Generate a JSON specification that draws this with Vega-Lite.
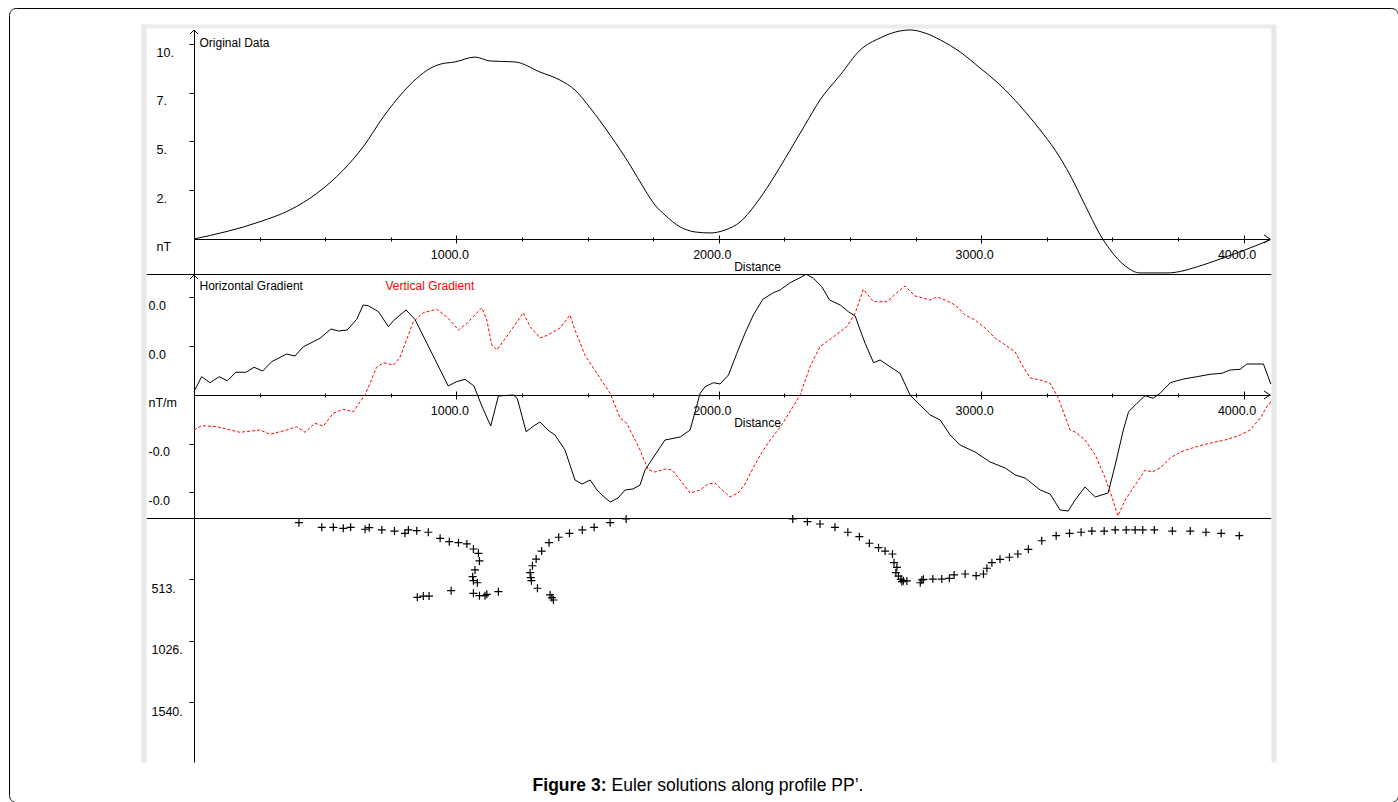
{
  "$schema": "https://vega.github.io/schema/vega-lite/v6.json",
  "width": 1389,
  "height": 794,
  "padding": {"left": 9, "top": 8, "right": 0, "bottom": 0},
  "autosize": {"type": "none"},
  "background": "white",
  "config": {
    "view": {"stroke": "#000000", "strokeWidth": 1, "cornerRadius": 7, "fill": "white"},
    "axis": {
      "labelFont": "Liberation Sans", "labelFontSize": 12.5, "labelColor": "#000000",
      "titleFont": "Liberation Sans", "titleFontSize": 12, "titleFontWeight": "normal", "titleColor": "#000000",
      "domainColor": "#000000", "tickColor": "#000000", "grid": false,
      "labelFlush": false, "labelOverlap": false, "tickWidth": 1, "domainWidth": 1
    }
  },
  "datasets": {
    "orig": [
      {"d": 0, "v": 0}, {"d": 252, "v": 0.89}, {"d": 366, "v": 1.49}, {"d": 468, "v": 2.34},
      {"d": 569, "v": 3.54}, {"d": 645, "v": 4.73}, {"d": 722, "v": 6.27}, {"d": 798, "v": 7.55},
      {"d": 849, "v": 8.24}, {"d": 900, "v": 8.75}, {"d": 940, "v": 8.97}, {"d": 995, "v": 9.08},
      {"d": 1071, "v": 9.33}, {"d": 1128, "v": 9.13}, {"d": 1224, "v": 9.08}, {"d": 1319, "v": 8.56},
      {"d": 1395, "v": 8.15}, {"d": 1452, "v": 7.64}, {"d": 1510, "v": 6.72}, {"d": 1586, "v": 5.33},
      {"d": 1662, "v": 3.79}, {"d": 1719, "v": 2.51}, {"d": 1757, "v": 1.74}, {"d": 1795, "v": 1.23},
      {"d": 1853, "v": 0.62}, {"d": 1910, "v": 0.36}, {"d": 1967, "v": 0.31}, {"d": 2024, "v": 0.46},
      {"d": 2081, "v": 0.87}, {"d": 2138, "v": 1.74}, {"d": 2196, "v": 2.87}, {"d": 2272, "v": 4.56},
      {"d": 2329, "v": 5.85}, {"d": 2386, "v": 7.13}, {"d": 2463, "v": 8.41}, {"d": 2539, "v": 9.69},
      {"d": 2615, "v": 10.31}, {"d": 2691, "v": 10.67}, {"d": 2729, "v": 10.72}, {"d": 2787, "v": 10.56},
      {"d": 2844, "v": 10.21}, {"d": 2920, "v": 9.59}, {"d": 2996, "v": 8.77}, {"d": 3072, "v": 7.9},
      {"d": 3149, "v": 6.82}, {"d": 3225, "v": 5.59}, {"d": 3282, "v": 4.56}, {"d": 3339, "v": 3.28},
      {"d": 3396, "v": 1.74}, {"d": 3454, "v": 0.21}, {"d": 3492, "v": -0.56}, {"d": 3549, "v": -1.38},
      {"d": 3606, "v": -1.74}, {"d": 3709, "v": -1.74}, {"d": 3846, "v": -1.33}, {"d": 3922, "v": -0.97},
      {"d": 4025, "v": -0.46}, {"d": 4101, "v": -0.05}
    ],
    "hgrad": [
      {"d": 0, "v": 0.00068}, {"d": 29, "v": 0.00375}, {"d": 61, "v": 0.00252}, {"d": 96, "v": 0.00375},
      {"d": 127, "v": 0.00293}, {"d": 160, "v": 0.00466}, {"d": 198, "v": 0.00466}, {"d": 229, "v": 0.00568},
      {"d": 262, "v": 0.00492}, {"d": 296, "v": 0.00683}, {"d": 353, "v": 0.00841}, {"d": 385, "v": 0.008},
      {"d": 417, "v": 0.00991}, {"d": 480, "v": 0.01163}, {"d": 522, "v": 0.01354}, {"d": 550, "v": 0.01313},
      {"d": 584, "v": 0.01333}, {"d": 620, "v": 0.01553}, {"d": 645, "v": 0.01846}, {"d": 664, "v": 0.01832},
      {"d": 703, "v": 0.01709}, {"d": 741, "v": 0.01401}, {"d": 760, "v": 0.01524}, {"d": 808, "v": 0.01744},
      {"d": 842, "v": 0.01553}, {"d": 969, "v": 0.00185}, {"d": 1001, "v": 0.00273}, {"d": 1033, "v": 0.00322},
      {"d": 1067, "v": 0.00185}, {"d": 1097, "v": -0.00226}, {"d": 1131, "v": -0.00636}, {"d": 1160, "v": -0.00021},
      {"d": 1217, "v": 0}, {"d": 1232, "v": -0.00068}, {"d": 1266, "v": -0.00753}, {"d": 1300, "v": -0.00615},
      {"d": 1319, "v": -0.00554}, {"d": 1349, "v": -0.00718}, {"d": 1376, "v": -0.00821}, {"d": 1414, "v": -0.01128},
      {"d": 1452, "v": -0.01744}, {"d": 1479, "v": -0.01826}, {"d": 1510, "v": -0.01744}, {"d": 1536, "v": -0.01949},
      {"d": 1555, "v": -0.02051}, {"d": 1586, "v": -0.02195}, {"d": 1616, "v": -0.02113}, {"d": 1643, "v": -0.01949},
      {"d": 1673, "v": -0.01928}, {"d": 1700, "v": -0.01846}, {"d": 1719, "v": -0.01538}, {"d": 1757, "v": -0.01231},
      {"d": 1795, "v": -0.00923}, {"d": 1853, "v": -0.00862}, {"d": 1891, "v": -0.00718}, {"d": 1929, "v": 0.00035},
      {"d": 1948, "v": 0.0017}, {"d": 1980, "v": 0.00252}, {"d": 2005, "v": 0.00226}, {"d": 2037, "v": 0.0041},
      {"d": 2069, "v": 0.00855}, {"d": 2100, "v": 0.01266}, {"d": 2132, "v": 0.01641}, {"d": 2168, "v": 0.01963},
      {"d": 2208, "v": 0.02098}, {"d": 2234, "v": 0.02154}, {"d": 2272, "v": 0.02304}, {"d": 2310, "v": 0.02406},
      {"d": 2333, "v": 0.02476}, {"d": 2361, "v": 0.02394}, {"d": 2393, "v": 0.02222}, {"d": 2422, "v": 0.01949},
      {"d": 2463, "v": 0.01846}, {"d": 2494, "v": 0.01709}, {"d": 2520, "v": 0.0162}, {"d": 2539, "v": 0.01333},
      {"d": 2558, "v": 0.0106}, {"d": 2590, "v": 0.00663}, {"d": 2615, "v": 0.00718}, {"d": 2653, "v": 0.0058},
      {"d": 2691, "v": 0.00445}, {"d": 2729, "v": 0}, {"d": 2767, "v": -0.00205}, {"d": 2806, "v": -0.0041},
      {"d": 2844, "v": -0.00513}, {"d": 2882, "v": -0.00821}, {"d": 2920, "v": -0.01026}, {"d": 2977, "v": -0.01169},
      {"d": 3034, "v": -0.01374}, {"d": 3092, "v": -0.01497}, {"d": 3130, "v": -0.01641}, {"d": 3168, "v": -0.01703},
      {"d": 3225, "v": -0.01949}, {"d": 3263, "v": -0.02031}, {"d": 3301, "v": -0.02359}, {"d": 3332, "v": -0.0238},
      {"d": 3358, "v": -0.02154}, {"d": 3396, "v": -0.01887}, {"d": 3435, "v": -0.02092}, {"d": 3484, "v": -0.0201},
      {"d": 3511, "v": -0.01436}, {"d": 3542, "v": -0.00718}, {"d": 3562, "v": -0.00343}, {"d": 3594, "v": -0.0017},
      {"d": 3625, "v": -0.00014}, {"d": 3655, "v": -0.00068}, {"d": 3682, "v": 0.00035}, {"d": 3721, "v": 0.00252},
      {"d": 3771, "v": 0.00328}, {"d": 3822, "v": 0.00375}, {"d": 3873, "v": 0.00425}, {"d": 3918, "v": 0.00445},
      {"d": 3949, "v": 0.00513}, {"d": 3987, "v": 0.00527}, {"d": 4013, "v": 0.00636}, {"d": 4076, "v": 0.00636},
      {"d": 4104, "v": 0.00226}
    ],
    "vgrad": [
      {"d": 0, "v": -0.00718}, {"d": 29, "v": -0.0063}, {"d": 87, "v": -0.0065}, {"d": 175, "v": -0.00765},
      {"d": 252, "v": -0.00718}, {"d": 290, "v": -0.00806}, {"d": 353, "v": -0.00718}, {"d": 391, "v": -0.0065},
      {"d": 423, "v": -0.00765}, {"d": 461, "v": -0.0058}, {"d": 493, "v": -0.00636}, {"d": 531, "v": -0.00375},
      {"d": 569, "v": -0.00293}, {"d": 607, "v": -0.00343}, {"d": 633, "v": -0.00137}, {"d": 652, "v": 0},
      {"d": 696, "v": 0.00568}, {"d": 722, "v": 0.00663}, {"d": 760, "v": 0.00615}, {"d": 785, "v": 0.00773},
      {"d": 836, "v": 0.01504}, {"d": 874, "v": 0.01688}, {"d": 925, "v": 0.01758}, {"d": 963, "v": 0.01606},
      {"d": 1008, "v": 0.01333}, {"d": 1040, "v": 0.01471}, {"d": 1097, "v": 0.01791}, {"d": 1116, "v": 0.01538},
      {"d": 1135, "v": 0.01026}, {"d": 1154, "v": 0.00923}, {"d": 1205, "v": 0.01298}, {"d": 1255, "v": 0.01688},
      {"d": 1281, "v": 0.01401}, {"d": 1319, "v": 0.01169}, {"d": 1349, "v": 0.01231}, {"d": 1395, "v": 0.01374},
      {"d": 1433, "v": 0.01641}, {"d": 1452, "v": 0.01333}, {"d": 1490, "v": 0.00821}, {"d": 1548, "v": 0.00343},
      {"d": 1586, "v": 0.00035}, {"d": 1624, "v": -0.00472}, {"d": 1649, "v": -0.0058}, {"d": 1700, "v": -0.01128},
      {"d": 1731, "v": -0.01538}, {"d": 1757, "v": -0.0158}, {"d": 1795, "v": -0.01518}, {"d": 1822, "v": -0.01538},
      {"d": 1853, "v": -0.01744}, {"d": 1891, "v": -0.0201}, {"d": 1929, "v": -0.01949}, {"d": 1959, "v": -0.01826},
      {"d": 1986, "v": -0.01805}, {"d": 2013, "v": -0.01949}, {"d": 2043, "v": -0.02092}, {"d": 2074, "v": -0.0201},
      {"d": 2100, "v": -0.01826}, {"d": 2127, "v": -0.01538}, {"d": 2158, "v": -0.01231}, {"d": 2196, "v": -0.00923},
      {"d": 2240, "v": -0.00615}, {"d": 2310, "v": 0}, {"d": 2348, "v": 0.0058}, {"d": 2386, "v": 0.00991},
      {"d": 2437, "v": 0.01196}, {"d": 2488, "v": 0.01401}, {"d": 2520, "v": 0.01676}, {"d": 2551, "v": 0.02168},
      {"d": 2590, "v": 0.01914}, {"d": 2641, "v": 0.01914}, {"d": 2691, "v": 0.02154}, {"d": 2710, "v": 0.02236},
      {"d": 2748, "v": 0.02031}, {"d": 2806, "v": 0.01949}, {"d": 2832, "v": 0.0201}, {"d": 2863, "v": 0.01949},
      {"d": 2901, "v": 0.01846}, {"d": 2939, "v": 0.01641}, {"d": 2977, "v": 0.01538}, {"d": 3015, "v": 0.01374},
      {"d": 3053, "v": 0.01169}, {"d": 3092, "v": 0.01026}, {"d": 3130, "v": 0.00882}, {"d": 3156, "v": 0.00615},
      {"d": 3187, "v": 0.00349}, {"d": 3225, "v": 0.00308}, {"d": 3263, "v": 0.0024}, {"d": 3294, "v": -0.00062},
      {"d": 3339, "v": -0.00718}, {"d": 3358, "v": -0.00759}, {"d": 3396, "v": -0.00923}, {"d": 3435, "v": -0.01231},
      {"d": 3473, "v": -0.01703}, {"d": 3500, "v": -0.02113}, {"d": 3521, "v": -0.02482}, {"d": 3549, "v": -0.02154},
      {"d": 3587, "v": -0.01846}, {"d": 3625, "v": -0.01538}, {"d": 3652, "v": -0.0158}, {"d": 3682, "v": -0.01497},
      {"d": 3721, "v": -0.01292}, {"d": 3759, "v": -0.01169}, {"d": 3816, "v": -0.01067}, {"d": 3873, "v": -0.00985},
      {"d": 3930, "v": -0.00923}, {"d": 3987, "v": -0.00821}, {"d": 4025, "v": -0.00718}, {"d": 4064, "v": -0.00472},
      {"d": 4095, "v": -0.00185}, {"d": 4105, "v": -0.00144}
    ],
    "euler": [
      {"d": 400, "z": 39}, {"d": 487, "z": 78}, {"d": 531, "z": 78}, {"d": 569, "z": 86}, {"d": 597, "z": 78},
      {"d": 652, "z": 94}, {"d": 668, "z": 81}, {"d": 716, "z": 100}, {"d": 764, "z": 109}, {"d": 804, "z": 128},
      {"d": 817, "z": 100}, {"d": 849, "z": 106}, {"d": 893, "z": 119}, {"d": 938, "z": 170}, {"d": 973, "z": 198},
      {"d": 1008, "z": 206}, {"d": 1040, "z": 217}, {"d": 1065, "z": 259}, {"d": 1084, "z": 295}, {"d": 1088, "z": 359},
      {"d": 1071, "z": 434}, {"d": 1062, "z": 490}, {"d": 1065, "z": 524}, {"d": 1080, "z": 541}, {"d": 851, "z": 663},
      {"d": 874, "z": 652}, {"d": 896, "z": 652}, {"d": 980, "z": 607}, {"d": 1065, "z": 629}, {"d": 1088, "z": 649},
      {"d": 1109, "z": 649}, {"d": 1116, "z": 638}, {"d": 1160, "z": 616},
      {"d": 1647, "z": 8}, {"d": 1586, "z": 39}, {"d": 1525, "z": 78}, {"d": 1480, "z": 100}, {"d": 1431, "z": 128},
      {"d": 1390, "z": 161}, {"d": 1353, "z": 206}, {"d": 1325, "z": 276}, {"d": 1304, "z": 343}, {"d": 1290, "z": 399},
      {"d": 1281, "z": 457}, {"d": 1284, "z": 499}, {"d": 1286, "z": 524}, {"d": 1309, "z": 587}, {"d": 1357, "z": 643},
      {"d": 1370, "z": 685}, {"d": 1364, "z": 666},
      {"d": 2282, "z": 8}, {"d": 2338, "z": 31}, {"d": 2386, "z": 50}, {"d": 2443, "z": 78}, {"d": 2492, "z": 119},
      {"d": 2536, "z": 156}, {"d": 2574, "z": 211}, {"d": 2609, "z": 248}, {"d": 2634, "z": 276}, {"d": 2662, "z": 301},
      {"d": 2668, "z": 373}, {"d": 2679, "z": 412}, {"d": 2675, "z": 457}, {"d": 2685, "z": 485}, {"d": 2694, "z": 512},
      {"d": 2704, "z": 524}, {"d": 2717, "z": 526}, {"d": 2698, "z": 532}, {"d": 2768, "z": 541}, {"d": 2774, "z": 518},
      {"d": 2780, "z": 512}, {"d": 2816, "z": 510}, {"d": 2850, "z": 510}, {"d": 2879, "z": 504}, {"d": 2897, "z": 476},
      {"d": 2939, "z": 468}, {"d": 2981, "z": 482}, {"d": 3009, "z": 468}, {"d": 3022, "z": 420}, {"d": 3041, "z": 373},
      {"d": 3072, "z": 345}, {"d": 3108, "z": 328}, {"d": 3140, "z": 301}, {"d": 3180, "z": 262}, {"d": 3231, "z": 190},
      {"d": 3286, "z": 148}, {"d": 3337, "z": 128}, {"d": 3381, "z": 119}, {"d": 3422, "z": 109}, {"d": 3469, "z": 109},
      {"d": 3511, "z": 100}, {"d": 3553, "z": 100}, {"d": 3587, "z": 100}, {"d": 3616, "z": 100}, {"d": 3660, "z": 100},
      {"d": 3729, "z": 109}, {"d": 3797, "z": 109}, {"d": 3857, "z": 119}, {"d": 3915, "z": 128}, {"d": 3984, "z": 148}
    ],
    "one": [{"k": 1}]
  },
  "resolve": {
    "scale": {"x": "independent", "y": "independent"},
    "axis": {"x": "independent", "y": "independent"}
  },
  "layer": [
    {
      "data": {"name": "one"},
      "mark": {"type": "point", "opacity": 0},
      "encoding": {
        "x": {"datum": 0, "type": "quantitative",
          "scale": {"domain": [0, 1], "range": [137, 1262], "nice": false, "zero": false},
          "axis": {"orient": "bottom", "offset": -528, "ticks": false, "labels": false, "title": null, "domainColor": "#000000"}},
        "y": {"datum": 0, "type": "quantitative",
          "scale": {"domain": [0, 1], "range": [16, 754], "nice": false, "zero": false},
          "axis": {"orient": "left", "offset": -134.5, "ticks": false, "labels": false, "title": null, "domainColor": "#e8e8e8", "domainWidth": 5}}
      }
    },
    {
      "data": {"name": "one"},
      "mark": {"type": "point", "opacity": 0},
      "encoding": {
        "x": {"datum": 0, "type": "quantitative",
          "scale": {"domain": [0, 1], "range": [137, 1262], "nice": false, "zero": false},
          "axis": {"orient": "bottom", "offset": -284, "ticks": false, "labels": false, "title": null, "domainColor": "#000000"}},
        "y": {"datum": 0, "type": "quantitative",
          "scale": {"domain": [0, 1], "range": [16, 754], "nice": false, "zero": false},
          "axis": {"orient": "right", "offset": -124.5, "ticks": false, "labels": false, "title": null, "domainColor": "#e8e8e8", "domainWidth": 5}}
      }
    },
    {
      "data": {"name": "one"},
      "mark": {"type": "point", "opacity": 0},
      "encoding": {
        "x": {"datum": 0, "type": "quantitative",
          "scale": {"domain": [0, 1], "range": [132, 1262], "nice": false, "zero": false},
          "axis": {"orient": "top", "offset": -18, "ticks": false, "labels": false, "title": null, "domainColor": "#ececec", "domainWidth": 4}},
        "y": {"datum": 0, "type": "quantitative",
          "scale": {"domain": [0, 1], "range": [16, 754], "nice": false, "zero": false},
          "axis": null}
      }
    },
    {
      "data": {"name": "orig"},
      "mark": {"type": "line", "color": "#000000", "strokeWidth": 1, "interpolate": "monotone"},
      "encoding": {
        "x": {"field": "d", "type": "quantitative",
          "scale": {"domain": [0, 4101], "range": [185, 1261], "nice": false, "zero": false},
          "axis": {"orient": "bottom", "offset": -563,
            "values": [250, 500, 750, 1000, 1250, 1500, 1750, 2000, 2250, 2500, 2750, 3000, 3250, 3500, 3750, 4000],
            "tickSize": 2, "labelExpr": "datum.value % 1000 == 0 ? format(datum.value, '.1f') : ''",
            "labelBaseline": "middle", "labelPadding": 13, "labelOffset": -7, "labelAlign": "center",
            "title": "Distance", "titleX": 748, "titleY": 27, "titleBaseline": "middle", "titleAlign": "center"}},
        "y": {"field": "v", "type": "quantitative",
          "scale": {"domain": [-1.795, 10.718], "range": [266, 22], "nice": false, "zero": false},
          "axis": {"orient": "left", "offset": -185, "values": [0, 2.5, 5, 7.5, 10], "tickSize": 5,
            "tickOpacity": {"condition": {"test": "datum.value == 0", "value": 0}, "value": 1},
            "labelExpr": "datum.value == 0 ? 'nT' : floor(datum.value) + '.'",
            "labelAlign": "left", "labelPadding": 33, "labelBaseline": "middle", "labelOffset": 8,
            "title": "Original Data", "titleAngle": 0, "titleAlign": "left", "titleBaseline": "middle", "titleX": 5, "titleY": 34}}
      }
    },
    {
      "data": {"name": "one"},
      "mark": {"type": "point", "shape": "M-1.5,-1L0,0L-1.5,1", "filled": false, "stroke": "#000000", "strokeWidth": 1, "size": 64, "opacity": 1},
      "encoding": {
        "x": {"datum": 4101, "type": "quantitative", "scale": {"domain": [0, 4101], "range": [185, 1261], "nice": false, "zero": false},
          "axis": {"orient": "bottom", "offset": -563, "domain": false, "labels": false, "title": null, "tickSize": -2,
            "values": [250, 500, 750, 1000, 1250, 1500, 1750, 2000, 2250, 2500, 2750, 3000, 3250, 3500, 3750, 4000]}},
        "y": {"datum": 0, "type": "quantitative", "scale": {"domain": [-1.795, 10.718], "range": [266, 22], "nice": false, "zero": false}, "axis": null}
      }
    },
    {
      "data": {"name": "one"},
      "mark": {"type": "point", "shape": "M-1,1L0,0L1,1", "filled": false, "stroke": "#000000", "strokeWidth": 1, "size": 64, "opacity": 1},
      "encoding": {
        "x": {"datum": 0, "type": "quantitative", "scale": {"domain": [0, 4101], "range": [185, 1261], "nice": false, "zero": false},
          "axis": {"orient": "bottom", "offset": -563, "domain": false, "labels": false, "title": null, "tickSize": 4,
            "values": [1000, 2000, 3000, 4000]}},
        "y": {"datum": 10.718, "type": "quantitative", "scale": {"domain": [-1.795, 10.718], "range": [266, 22], "nice": false, "zero": false}, "axis": null}
      }
    },
    {
      "data": {"name": "one"},
      "mark": {"type": "point", "opacity": 0},
      "encoding": {
        "x": {"datum": 0, "type": "quantitative", "scale": {"domain": [0, 4101], "range": [185, 1261], "nice": false, "zero": false},
          "axis": {"orient": "bottom", "offset": -563, "domain": false, "labels": false, "title": null, "tickSize": -4,
            "values": [1000, 2000, 3000, 4000]}},
        "y": {"datum": 0, "type": "quantitative", "scale": {"domain": [-1.795, 10.718], "range": [266, 22], "nice": false, "zero": false}, "axis": null}
      }
    },
    {
      "data": {"name": "hgrad"},
      "mark": {"type": "line", "color": "#000000", "strokeWidth": 1},
      "encoding": {
        "x": {"field": "d", "type": "quantitative",
          "scale": {"domain": [0, 4101], "range": [185, 1261], "nice": false, "zero": false},
          "axis": {"orient": "bottom", "offset": -407,
            "values": [250, 500, 750, 1000, 1250, 1500, 1750, 2000, 2250, 2500, 2750, 3000, 3250, 3500, 3750, 4000],
            "tickSize": 2, "labelExpr": "datum.value % 1000 == 0 ? format(datum.value, '.1f') : ''",
            "labelBaseline": "middle", "labelPadding": 13, "labelOffset": -7, "labelAlign": "center",
            "title": "Distance", "titleX": 748, "titleY": 27, "titleBaseline": "middle", "titleAlign": "center"}},
        "y": {"field": "v", "type": "quantitative",
          "scale": {"domain": [-0.025231, 0.024615], "range": [510, 267], "nice": false, "zero": false},
          "axis": {"orient": "left", "offset": -185, "values": [-0.02, -0.01, 0, 0.01, 0.02], "tickSize": 5,
            "tickOpacity": {"condition": {"test": "datum.value == 0", "value": 0}, "value": 1},
            "labelExpr": "datum.value == 0 ? 'nT/m' : (datum.value > 0 ? '0.0' : '-0.0')",
            "labelAlign": "left", "labelPadding": 41, "labelBaseline": "middle", "labelOffset": 8,
            "title": "Horizontal Gradient", "titleAngle": 0, "titleAlign": "left", "titleBaseline": "middle", "titleX": 5, "titleY": 277}}
      }
    },
    {
      "data": {"name": "one"},
      "mark": {"type": "point", "shape": "M-1.5,-1L0,0L-1.5,1", "filled": false, "stroke": "#000000", "strokeWidth": 1, "size": 64, "opacity": 1},
      "encoding": {
        "x": {"datum": 4101, "type": "quantitative", "scale": {"domain": [0, 4101], "range": [185, 1261], "nice": false, "zero": false},
          "axis": {"orient": "bottom", "offset": -407, "domain": false, "labels": false, "title": null, "tickSize": -2,
            "values": [250, 500, 750, 1000, 1250, 1500, 1750, 2000, 2250, 2500, 2750, 3000, 3250, 3500, 3750, 4000]}},
        "y": {"datum": 0, "type": "quantitative", "scale": {"domain": [-0.025231, 0.024615], "range": [510, 267], "nice": false, "zero": false}, "axis": null}
      }
    },
    {
      "data": {"name": "one"},
      "mark": {"type": "point", "shape": "M-1,1L0,0L1,1", "filled": false, "stroke": "#000000", "strokeWidth": 1, "size": 64, "opacity": 1},
      "encoding": {
        "x": {"datum": 0, "type": "quantitative", "scale": {"domain": [0, 4101], "range": [185, 1261], "nice": false, "zero": false},
          "axis": {"orient": "bottom", "offset": -407, "domain": false, "labels": false, "title": null, "tickSize": 4,
            "values": [1000, 2000, 3000, 4000]}},
        "y": {"datum": 0.024615, "type": "quantitative", "scale": {"domain": [-0.025231, 0.024615], "range": [510, 267], "nice": false, "zero": false}, "axis": null}
      }
    },
    {
      "data": {"name": "one"},
      "mark": {"type": "point", "opacity": 0},
      "encoding": {
        "x": {"datum": 0, "type": "quantitative", "scale": {"domain": [0, 4101], "range": [185, 1261], "nice": false, "zero": false},
          "axis": {"orient": "bottom", "offset": -407, "domain": false, "labels": false, "title": null, "tickSize": -4,
            "values": [1000, 2000, 3000, 4000]}},
        "y": {"datum": 0, "type": "quantitative", "scale": {"domain": [-0.025231, 0.024615], "range": [510, 267], "nice": false, "zero": false}, "axis": null}
      }
    },
    {
      "data": {"name": "vgrad"},
      "mark": {"type": "line", "color": "#ff0000", "strokeWidth": 1, "strokeDash": [3, 2]},
      "encoding": {
        "x": {"field": "d", "type": "quantitative",
          "scale": {"domain": [0, 4101], "range": [185, 1261], "nice": false, "zero": false},
          "axis": {"orient": "bottom", "offset": -17, "domain": false, "ticks": false, "labels": false,
            "title": "Figure 3:", "titleFontWeight": "bold", "titleFontSize": 17.5, "titleAlign": "right",
            "titleX": 597, "titleY": 0, "titleBaseline": "middle"}},
        "y": {"field": "v", "type": "quantitative",
          "scale": {"domain": [-0.025231, 0.024615], "range": [510, 267], "nice": false, "zero": false},
          "axis": {"orient": "left", "offset": -185, "domain": false, "ticks": false, "labels": false,
            "title": "Vertical Gradient", "titleColor": "#ff0000", "titleAngle": 0, "titleAlign": "left",
            "titleBaseline": "middle", "titleX": 191, "titleY": 277}}
      }
    },
    {
      "data": {"name": "euler"},
      "mark": {"type": "point", "shape": "M-1,0L1,0M0,-1L0,1", "filled": false, "stroke": "#000000", "strokeWidth": 1.2, "size": 64, "opacity": 1},
      "encoding": {
        "x": {"field": "d", "type": "quantitative",
          "scale": {"domain": [0, 4101], "range": [185, 1261], "nice": false, "zero": false},
          "axis": {"orient": "bottom", "offset": -17, "domain": false, "ticks": false, "labels": false,
            "title": "Euler solutions along profile PP’.", "titleFontSize": 17.5, "titleAlign": "left",
            "titleX": 602, "titleY": 0, "titleBaseline": "middle"}},
        "y": {"field": "z", "type": "quantitative",
          "scale": {"domain": [0, 2038.8], "range": [510, 754], "nice": false, "zero": false},
          "axis": {"orient": "left", "offset": -185, "values": [513, 1026, 1540], "tickSize": 5,
            "labelExpr": "datum.value + '.'", "labelAlign": "left", "labelPadding": 38,
            "labelBaseline": "middle", "labelOffset": 9, "title": null}}
      }
    }
  ]
}
